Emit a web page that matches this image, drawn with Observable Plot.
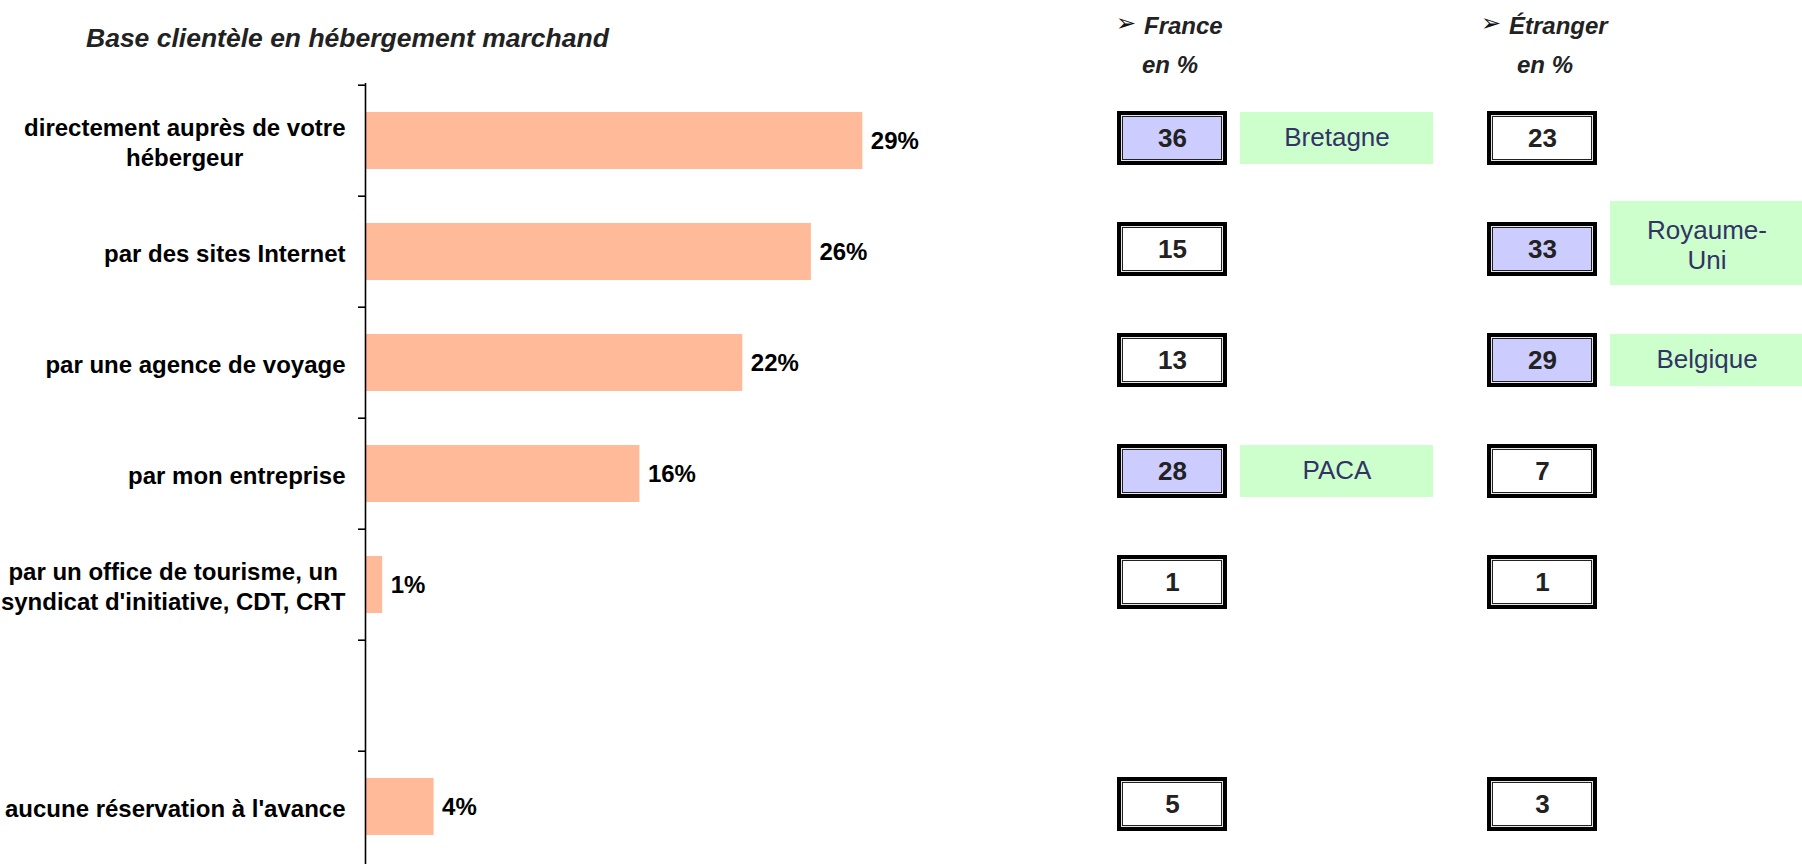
<!DOCTYPE html>
<html>
<head>
<meta charset="utf-8">
<script src="https://cdn.jsdelivr.net/npm/d3@7"></script>
<script src="https://cdn.jsdelivr.net/npm/@observablehq/plot@0.6"></script>
<style>
  html, body { margin: 0; padding: 0; background: #fff; }
  #wrap { position: relative; width: 1802px; height: 864px; overflow: hidden; font-family: "Liberation Sans", Arial, sans-serif; }
  #wrap svg { position: absolute; top: 0; }
  .hdr { position: absolute; font-weight: bold; font-style: italic; color: #222; line-height: 1; white-space: nowrap; }
  .arrow { position: absolute; font-family: "DejaVu Sans", sans-serif; font-size: 24px; line-height: 1; color: #111; }
</style>
</head>
<body>
<div id="wrap">
  <div class="hdr" style="left:86px; top:25px; font-size:26.5px;">Base clientèle en hébergement marchand</div>
  <div class="arrow" style="left:1116px; top:11px;">➢</div>
  <div class="hdr" style="left:1144px; top:14px; font-size:24px;">France</div>
  <div class="hdr" style="left:1142px; top:53px; font-size:24px;">en %</div>
  <div class="arrow" style="left:1481px; top:11px;">➢</div>
  <div class="hdr" style="left:1509px; top:14px; font-size:24px;">Étranger</div>
  <div class="hdr" style="left:1517px; top:53px; font-size:24px;">en %</div>
</div>
<script>
// ---- data ----
const categories = [
  "directement auprès de votre\nhébergeur",
  "par des sites Internet",
  "par une agence de voyage",
  "par mon entreprise",
  "par un office de tourisme, un\nsyndicat d'initiative, CDT, CRT",
  " ",
  "aucune réservation à l'avance"
];
const totals   = [29, 26, 22, 16, 1, null, 4];
const france   = [36, 15, 13, 28, 1, null, 5];
const etranger = [23, 33, 29, 7, 1, null, 3];
const regionsFrance   = ["Bretagne", null, null, "PACA", null, null, null];
const regionsEtranger = [null, "Royaume-\nUni", "Belgique", null, null, null, null];
const columns = ["France", "Étranger"];

// ---- layout ----
const H = 864, TOP = 83;
const STEP = (H - TOP) / categories.length;
const FONT = "'Liberation Sans', Arial, sans-serif";

const bars = categories.map((c, i) => ({label: c, value: totals[i]})).filter(d => d.value != null);
const boxes = [];
categories.forEach((c, i) => {
  if (france[i] != null) boxes.push({col: columns[0], row: c, value: france[i], region: regionsFrance[i]});
  if (etranger[i] != null) boxes.push({col: columns[1], row: c, value: etranger[i], region: regionsEtranger[i]});
});

const wrap = document.getElementById("wrap");

// ---- left bar chart ----
const left = Plot.plot({
  width: 1080, height: H,
  marginTop: TOP, marginBottom: 0, marginLeft: 365, marginRight: 29,
  style: {fontFamily: FONT, color: "black", background: "transparent", overflow: "visible"},
  x: {domain: [0, 40], axis: null},
  y: {domain: categories, paddingInner: 0.49, paddingOuter: 0.245, axis: null},
  marks: [
    Plot.barX(bars, {x: "value", y: "label", fill: "#FFBB99"}),
    Plot.text(bars, {x: "value", y: "label", text: d => d.value + "%", textAnchor: "start", dx: 8,
      fontSize: 24, fontWeight: "bold", fill: "black"}),
    Plot.ruleX([0], {stroke: "black", strokeWidth: 1.6}),
    Plot.axisY({tickSize: 7, tickFormat: () => "", dy: -STEP / 2, strokeWidth: 1.6, label: null}),
    Plot.axisY({tickSize: 0, tickPadding: 20, fontSize: 24, fontWeight: "bold", lineHeight: 1.25,
      fill: "black", label: null})
  ]
});
left.style.left = "0px";
wrap.appendChild(left);

// center multi-line labels (as in the original)
left.querySelectorAll("text").forEach(t => {
  const ts = t.querySelectorAll("tspan");
  if (ts.length > 1) {
    const w = t.getBBox().width;
    const x0 = ts[0].hasAttribute("x") ? parseFloat(ts[0].getAttribute("x")) : parseFloat(t.getAttribute("x") || 0);
    t.setAttribute("text-anchor", "middle");
    ts.forEach(s => s.setAttribute("x", x0 - w / 2));
  }
});

// ---- right boxes ----
const BOX = {insetLeft: 10, insetRight: 250, insetTop: 26, insetBottom: 31};
const ins = k => ({insetLeft: BOX.insetLeft + k, insetRight: BOX.insetRight + k,
                   insetTop: BOX.insetTop + k, insetBottom: BOX.insetBottom + k});
const single = boxes.filter(d => d.region && !d.region.includes("\n"));
const multi  = boxes.filter(d => d.region && d.region.includes("\n"));

const right = Plot.plot({
  width: 722, height: H,
  marginTop: TOP, marginBottom: 0, marginLeft: 27, marginRight: 0,
  style: {fontFamily: FONT, background: "transparent"},
  x: {domain: columns, range: [27, 767], padding: 0, axis: null},
  y: {domain: categories, padding: 0, axis: null},
  marks: [
    Plot.cell(single, {x: "col", y: "row", fill: "#CCFFCC", insetLeft: 133, insetRight: 44, insetTop: 27, insetBottom: 32}),
    Plot.cell(multi,  {x: "col", y: "row", fill: "#CCFFCC", insetLeft: 133, insetRight: 44, insetTop: 5, insetBottom: 22}),
    Plot.text(single, {x: "col", y: "row", text: "region", dx: 44.5, dy: -3, fontSize: 26, fill: "#333366"}),
    Plot.text(multi,  {x: "col", y: "row", text: "region", dx: 44.5, dy: -8, fontSize: 26, lineHeight: 1.15, fill: "#333366"}),
    Plot.cell(boxes, {x: "col", y: "row", fill: "black", ...ins(0)}),
    Plot.cell(boxes, {x: "col", y: "row", fill: "#e6e6e6", ...ins(4)}),
    Plot.cell(boxes, {x: "col", y: "row", fill: "#222", ...ins(5)}),
    Plot.cell(boxes, {x: "col", y: "row", fill: d => d.region ? "#CCCCFF" : "white", ...ins(6)}),
    Plot.text(boxes, {x: "col", y: "row", text: d => String(d.value), dx: -120, dy: -2.5,
      fontSize: 26, fontWeight: "bold", fill: "#222"})
  ]
});
right.style.left = "1080px";
wrap.appendChild(right);
</script>
</body>
</html>
